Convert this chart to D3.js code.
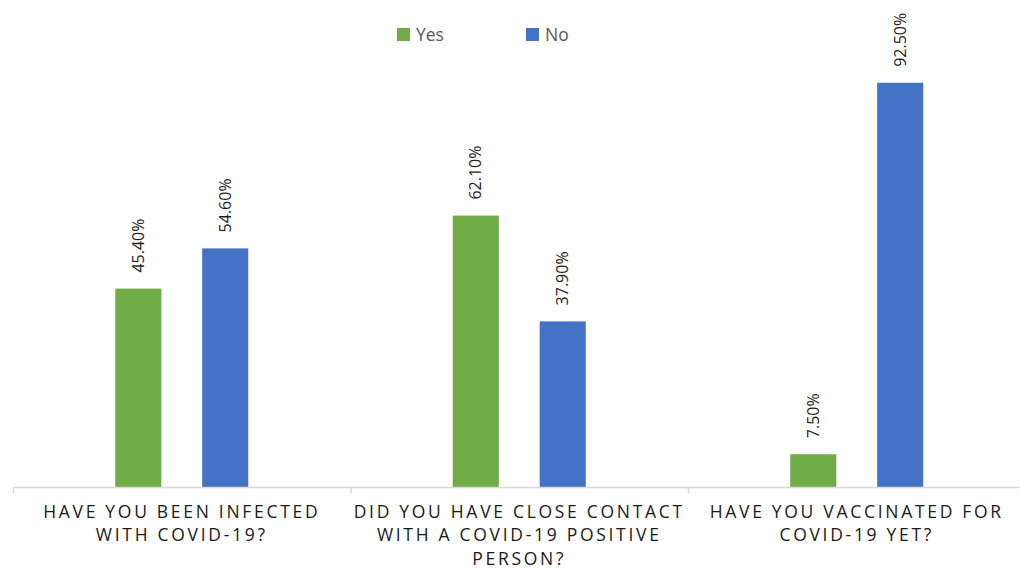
<!DOCTYPE html>
<html>
<head>
<meta charset="utf-8">
<script src="https://cdn.jsdelivr.net/npm/d3@7"></script>
<style>
  html, body { margin: 0; padding: 0; background: #ffffff; }
  svg { display: block; font-family: "Open Sans", "Noto Sans", sans-serif; }
</style>
</head>
<body>
<svg id="chart" width="1020" height="570"></svg>
<script>
// Survey answers, percent of respondents
const categories = [
  ["HAVE YOU BEEN INFECTED", "WITH COVID-19?"],
  ["DID YOU HAVE CLOSE CONTACT", "WITH A COVID-19 POSITIVE", "PERSON?"],
  ["HAVE YOU VACCINATED FOR", "COVID-19 YET?"]
];
const seriesNames = ["Yes", "No"];
const yesValues = [45.4, 62.1, 7.5];
const noValues = [54.6, 37.9, 92.5];
const seriesColors = ["#70AD47", "#4472C4"];

const svg = d3.select("#chart");
const baseY = 487;

const catKeys = categories.map((c, i) => i);
const x0 = d3.scaleBand().domain(catKeys).range([13, 1025.5]).padding(0);
const groupW = x0.bandwidth();
const x1 = d3.scaleBand().domain(seriesNames)
  .range([groupW / 2 - 66.5, groupW / 2 + 66.5])
  .paddingInner(0.47).paddingOuter(0);
const y = d3.scaleLinear().domain([0, 100]).range([baseY, 50]);
const color = d3.scaleOrdinal().domain(seriesNames).range(seriesColors);

const rows = catKeys.map(i => ({
  cat: i,
  values: [
    { key: "Yes", value: yesValues[i] },
    { key: "No", value: noValues[i] }
  ]
}));

// Bars
const groups = svg.append("g").selectAll("g")
  .data(rows).join("g")
  .attr("transform", d => `translate(${x0(d.cat)},0)`);

groups.selectAll("rect")
  .data(d => d.values).join("rect")
  .attr("x", d => x1(d.key))
  .attr("y", d => y(d.value))
  .attr("width", x1.bandwidth())
  .attr("height", d => baseY - y(d.value))
  .attr("fill", d => color(d.key));

// Rotated value labels above each bar
groups.selectAll("text.val")
  .data(d => d.values).join("text")
  .attr("class", "val")
  .attr("transform", d => `translate(${x1(d.key) + x1.bandwidth() / 2},${y(d.value) - 16}) rotate(-90)`)
  .attr("dy", "0.35em")
  .attr("font-size", 16)
  .attr("fill", "#1f1f1f")
  .text(d => d.value.toFixed(2) + "%");

// Category axis: baseline and boundary ticks
const axis = svg.append("g");
axis.append("line")
  .attr("x1", x0.range()[0]).attr("x2", 1020)
  .attr("y1", baseY + 0.5).attr("y2", baseY + 0.5)
  .attr("stroke", "#d9d9d9").attr("stroke-width", 1.5);
axis.selectAll("line.tick")
  .data(catKeys.concat([catKeys.length]))
  .join("line")
  .attr("class", "tick")
  .attr("x1", i => x0.range()[0] + i * x0.step() + 0.5)
  .attr("x2", i => x0.range()[0] + i * x0.step() + 0.5)
  .attr("y1", baseY).attr("y2", baseY + 6)
  .attr("stroke", "#d9d9d9").attr("stroke-width", 1.5);

// Category labels, letter-spaced capitals
const catLabels = axis.selectAll("text.cat")
  .data(rows).join("text")
  .attr("class", "cat")
  .attr("text-anchor", "middle")
  .attr("font-size", 17.5)
  .attr("letter-spacing", "2.7px")
  .attr("fill", "#1a1a1a")
  .attr("transform", d => `translate(${x0(d.cat) + groupW / 2},${517.5})`);
catLabels.selectAll("tspan")
  .data(d => categories[d.cat]).join("tspan")
  .attr("x", 0)
  .attr("y", (d, i) => i * 23.6)
  .text(d => d);

// Legend
const legendItems = [
  { key: "Yes", x: 397 },
  { key: "No", x: 526 }
];
const legend = svg.append("g").selectAll("g")
  .data(legendItems).join("g")
  .attr("transform", d => `translate(${d.x},28)`);
legend.append("rect")
  .attr("width", 13).attr("height", 13)
  .attr("fill", d => color(d.key));
legend.append("text")
  .attr("x", 19).attr("y", 12.5)
  .attr("font-size", 17.5)
  .attr("fill", "#595959")
  .text(d => d.key);
</script>
</body>
</html>
